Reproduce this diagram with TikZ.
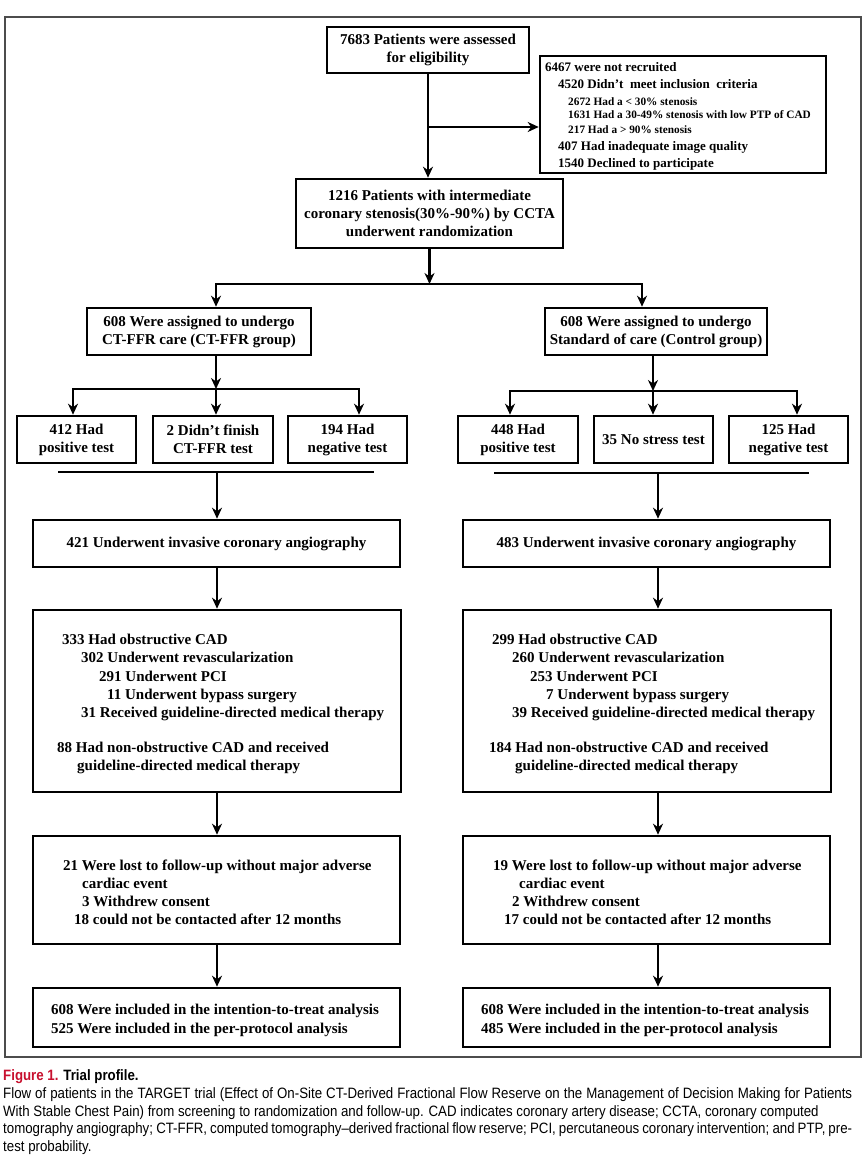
\documentclass[tikz,border=0pt]{standalone}
\usepackage{fontspec}
\setmainfont{Liberation Serif}
\newfontfamily\capfont[FakeStretch=0.885]{Liberation Sans}
\usetikzlibrary{arrows.meta}
\definecolor{figred}{RGB}{200,16,46}
\begin{document}
\begin{tikzpicture}[x=1pt,y=-1pt,
  box/.style={draw, line width=2.6pt, align=center, inner sep=0pt, font=\bfseries\fontsize{15}{18}\selectfont},
  framebox/.style={draw, line width=2.6pt, inner sep=0pt},
  tx/.style={anchor=base west, inner sep=0pt, font=\bfseries\fontsize{15}{18}\selectfont},
  txm/.style={anchor=base west, inner sep=0pt, font=\bfseries\fontsize{13}{15}\selectfont},
  txs/.style={anchor=base west, inner sep=0pt, font=\bfseries\fontsize{11.3}{13}\selectfont},
  arr/.style={line width=2.3pt, -{Stealth[length=11pt,width=10pt,inset=3.5pt]}},
  ln/.style={line width=2.3pt, line cap=rect},
  captxt/.style={anchor=base west, inner sep=0pt, font=\capfont\fontsize{15}{17}\selectfont}
]
\fill[white] (0,0) rectangle (866,1164);
\useasboundingbox (0,0) rectangle (866,1164);
\draw[line width=1.2pt, black!70] (5,17) rectangle (861,1057);

% top
\node[box, minimum width=202pt, minimum height=46pt] (b1) at (428,50) {7683 Patients were assessed\\for eligibility};
\node[framebox, minimum width=286pt, minimum height=117pt] (ex) at (683,114.5) {};
\node[txm] (ex1) at (545,71.5) {6467 were not recruited};
\node[txm] (ex2) at (558,88.5) {4520 Didn’t\ \ meet inclusion\ \ criteria};
\node[txs] (ex3) at (568,105) {2672 Had a < 30\% stenosis};
\node[txs] (ex4) at (568,118) {1631 Had a 30-49\% stenosis with low PTP of CAD};
\node[txs] (ex5) at (568,133) {217 Had a > 90\% stenosis};
\node[txm] (ex6) at (558,150.5) {407 Had inadequate image quality};
\node[txm] (ex7) at (558,167.5) {1540 Declined to participate};

\node[box, minimum width=267pt, minimum height=69pt] (b2) at (429.5,213.5) {1216 Patients with intermediate\\coronary stenosis(30\%-90\%) by CCTA\\underwent randomization};

\coordinate (j1) at (428,127);
\draw[arr] (b1.south) -- (b1.south |- b2.north);
\draw[arr] (j1) -- (j1 -| ex.west);

% groups
\node[box, minimum width=224pt, minimum height=47pt] (gL) at (199,331.5) {608 Were assigned to undergo\\CT-FFR care (CT-FFR group)};
\node[box, minimum width=222pt, minimum height=47pt] (gR) at (656,331.5) {608 Were assigned to undergo\\Standard of care (Control group)};

\coordinate (br1) at (429.5,284);
\coordinate (br1L) at (216,284);
\coordinate (br1R) at (642,284);
\draw[arr] (b2.south) -- (br1);
\draw[ln] (br1L) -- (br1R);
\draw[arr] (br1L) -- (br1L |- gL.north);
\draw[arr] (br1R) -- (br1R |- gR.north);

% test boxes
\node[box, minimum width=119pt, minimum height=47pt] (tA) at (76.5,439.5) {412 Had\\positive test};
\node[box, minimum width=120pt, minimum height=47pt] (tB) at (213,439.5) {2 Didn’t finish\\CT-FFR test};
\node[box, minimum width=119pt, minimum height=47pt] (tC) at (347.5,439.5) {194 Had\\negative test};
\node[box, minimum width=120pt, minimum height=47pt] (tD) at (518,439.5) {448 Had\\positive test};
\node[box, minimum width=119pt, minimum height=47pt] (tE) at (653.5,439.5) {35 No stress test};
\node[box, minimum width=119pt, minimum height=47pt] (tF) at (788.5,439.5) {125 Had\\negative test};

\coordinate (br2a) at (73,389);
\coordinate (br2b) at (216,389);
\coordinate (br2c) at (359,389);
\draw[arr] (br2b |- gL.south) -- (br2b);
\draw[ln] (br2a) -- (br2c);
\draw[arr] (br2a) -- (br2a |- tA.north);
\draw[arr] (br2b) -- (br2b |- tB.north);
\draw[arr] (br2c) -- (br2c |- tC.north);

\coordinate (br3a) at (510,391);
\coordinate (br3b) at (653,391);
\coordinate (br3c) at (797,391);
\draw[arr] (br3b |- gR.south) -- (br3b);
\draw[ln] (br3a) -- (br3c);
\draw[arr] (br3a) -- (br3a |- tD.north);
\draw[arr] (br3b) -- (br3b |- tE.north);
\draw[arr] (br3c) -- (br3c |- tF.north);

% angiography
\node[box, minimum width=367pt, minimum height=47pt] (aL) at (216.5,543.5) {421 Underwent invasive coronary angiography};
\node[box, minimum width=367pt, minimum height=47pt] (aR) at (646.5,543.5) {483 Underwent invasive coronary angiography};

\coordinate (barLa) at (59,472);
\coordinate (barLb) at (373,472);
\coordinate (barLm) at (217,472);
\coordinate (barRa) at (495,473);
\coordinate (barRb) at (808,473);
\coordinate (barRm) at (658,473);
\draw[ln] (barLa) -- (barLb);
\draw[ln] (barRa) -- (barRb);
\draw[arr] (barLm) -- (barLm |- aL.north);
\draw[arr] (barRm) -- (barRm |- aR.north);

% CAD boxes
\node[framebox, minimum width=368pt, minimum height=182pt] (cL) at (217,701) {};
\node[framebox, minimum width=368pt, minimum height=182pt] (cR) at (647,701) {};
\draw[arr] (aL.south -| barLm) -- (cL.north -| barLm);
\draw[arr] (aR.south -| barRm) -- (cR.north -| barRm);

\node[tx] (cL1) at (62,644) {333 Had obstructive CAD};
\node[tx] (cL2) at (81,662) {302 Underwent revascularization};
\node[tx] (cL3) at (99,681) {291 Underwent PCI};
\node[tx] (cL4) at (107,699) {11 Underwent bypass surgery};
\node[tx] (cL5) at (81,717) {31 Received guideline-directed medical therapy};
\node[tx] (cL6) at (57,752) {88 Had non-obstructive CAD and received};
\node[tx] (cL7) at (77,770) {guideline-directed medical therapy};

\node[tx] (cR1) at (492,644) {299 Had obstructive CAD};
\node[tx] (cR2) at (512,662) {260 Underwent revascularization};
\node[tx] (cR3) at (530,681) {253 Underwent PCI};
\node[tx] (cR4) at (546,699) {7 Underwent bypass surgery};
\node[tx] (cR5) at (512,717) {39 Received guideline-directed medical therapy};
\node[tx] (cR6) at (489,752) {184 Had non-obstructive CAD and received};
\node[tx] (cR7) at (515,770) {guideline-directed medical therapy};

% lost boxes
\node[framebox, minimum width=367pt, minimum height=108pt] (lL) at (216.5,890) {};
\node[framebox, minimum width=367pt, minimum height=108pt] (lR) at (646.5,890) {};
\draw[arr] (cL.south -| barLm) -- (lL.north -| barLm);
\draw[arr] (cR.south -| barRm) -- (lR.north -| barRm);

\node[tx] (lL1) at (63,870) {21 Were lost to follow-up without major adverse};
\node[tx] (lL2) at (82,888) {cardiac event};
\node[tx] (lL3) at (82,906) {3 Withdrew consent};
\node[tx] (lL4) at (74,924) {18 could not be contacted after 12 months};

\node[tx] (lR1) at (493,870) {19 Were lost to follow-up without major adverse};
\node[tx] (lR2) at (519,888) {cardiac event};
\node[tx] (lR3) at (512,906) {2 Withdrew consent};
\node[tx] (lR4) at (504,924) {17 could not be contacted after 12 months};

% final boxes
\node[framebox, minimum width=367pt, minimum height=59pt] (fL) at (216.5,1017.5) {};
\node[framebox, minimum width=367pt, minimum height=59pt] (fR) at (646.5,1017.5) {};
\draw[arr] (lL.south -| barLm) -- (fL.north -| barLm);
\draw[arr] (lR.south -| barRm) -- (fR.north -| barRm);

\node[tx] (fL1) at (51,1014) {608 Were included in the intention-to-treat analysis};
\node[tx] (fL2) at (51,1033) {525 Were included in the per-protocol analysis};
\node[tx] (fR1) at (481,1014) {608 Were included in the intention-to-treat analysis};
\node[tx] (fR2) at (481,1033) {485 Were included in the per-protocol analysis};

% caption
\node[captxt] (c1) at (3,1080) {\bfseries\textcolor{figred}{Figure 1.} Trial profile.};
\node[captxt] (c2) at (3,1098) {\makebox[849pt][s]{Flow of patients in the TARGET trial (Effect of On-Site CT-Derived Fractional Flow Reserve on the Management of Decision Making for Patients}};
\node[captxt] (c3) at (3,1116) {With Stable Chest Pain) from screening to randomization and follow-up. CAD indicates coronary artery disease; CCTA, coronary computed};
\node[captxt] (c4) at (3,1133) {\makebox[849pt][s]{tomography angiography; CT-FFR, computed tomography–derived fractional flow reserve; PCI, percutaneous coronary intervention; and PTP, pre-}};
\node[captxt] (c5) at (3,1151) {test probability.};
\end{tikzpicture}
\end{document}
